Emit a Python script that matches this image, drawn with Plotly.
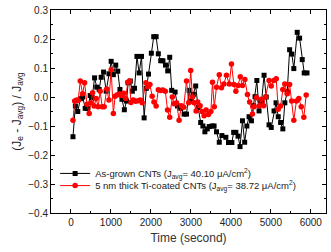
import plotly.graph_objects as go

black_t = [50, 110, 170, 235, 295, 355, 420, 480, 530, 590, 645, 705, 755, 815, 880, 950,
           1005, 1060, 1120, 1170, 1225, 1275, 1335, 1390, 1430, 1485, 1535, 1590, 1650, 1705,
           1765, 1830, 1885, 1940, 2010, 2070, 2130, 2185, 2245, 2300, 2365, 2420, 2470, 2520,
           2605, 2665, 2745, 2830, 2890, 2955, 3010, 3060, 3120, 3180, 3245, 3300, 3350, 3410,
           3460, 3530, 3580, 3640, 3710, 3775, 3875, 3940, 4025, 4070, 4125, 4180, 4230, 4290,
           4345, 4400, 4455, 4515, 4570, 4605, 4650, 4705, 4770, 4830, 4885, 4955, 5010, 5080,
           5130, 5185, 5245, 5300, 5350, 5410, 5470, 5525, 5575, 5660, 5720, 5785, 5835, 5905]
black_v = [-0.137, -0.031, -0.050, -0.006, 0.000, -0.039, -0.040, 0.005, -0.002, 0.066, 0.034,
           0.026, 0.068, 0.086, 0.020, 0.080, 0.123, 0.077, 0.110, 0.089, 0.026, -0.008, -0.044,
           -0.014, 0.049, 0.055, 0.020, 0.030, 0.140, 0.083, 0.140, -0.072, 0.030, 0.079, 0.151,
           0.208, 0.208, 0.149, 0.125, 0.125, 0.110, 0.090, 0.137, 0.023, 0.017, -0.031, -0.039,
           -0.059, -0.059, 0.023, -0.014, 0.009, 0.038, -0.036, -0.088, -0.100, -0.120, -0.110,
           -0.102, -0.100, -0.100, -0.120, -0.156, -0.133, -0.139, -0.157, -0.157, -0.122, -0.122,
           -0.135, -0.171, -0.082, -0.156, -0.100, -0.068, -0.082, -0.030, 0.001, 0.057, -0.048,
           -0.014, 0.075, 0.000, -0.096, -0.105, -0.048, -0.020, -0.068, -0.088, -0.110, -0.020,
           0.018, 0.163, 0.148, 0.098, 0.223, 0.203, 0.129, 0.083, 0.083]

red_t = [50, 92, 140, 180, 232, 290, 340, 400, 455, 500, 540, 580, 630, 680, 730, 780, 830,
         895, 950, 1005, 1060, 1105, 1160, 1215, 1270, 1320, 1370, 1420, 1465, 1500, 1560,
         1620, 1680, 1730, 1780, 1875, 1920, 1975, 2030, 2075, 2130, 2185, 2245, 2300, 2360,
         2415, 2470, 2535, 2580, 2640, 2705, 2760, 2820, 2890, 2945, 2995, 3040, 3080, 3130,
         3170, 3230, 3280, 3330, 3380, 3440, 3500, 3540, 3585, 3640, 3710, 3765, 3825, 3890,
         3960, 4015, 4075, 4125, 4180, 4235, 4290, 4350, 4415, 4470, 4540, 4580, 4640, 4705,
         4760, 4820, 4870, 4955, 5010, 5075, 5135, 5185, 5245, 5300, 5350, 5410, 5470, 5520,
         5575, 5640, 5700, 5760, 5825, 5885]
red_v = [-0.080, -0.014, -0.010, -0.012, 0.055, 0.011, 0.049, -0.025, -0.057, -0.020, 0.015,
         -0.031, -0.005, -0.034, 0.020, -0.034, -0.034, 0.028, -0.010, 0.094, -0.057, 0.003,
         0.008, 0.010, 0.005, 0.013, -0.005, 0.051, 0.055, -0.019, -0.010, -0.015, -0.013,
         -0.010, -0.020, 0.049, 0.035, 0.043, 0.003, -0.017, -0.031, 0.025, 0.022, 0.024, 0.020,
         -0.045, -0.070, 0.000, -0.023, -0.020, -0.080, -0.030, -0.035, 0.055, -0.020, 0.091,
         0.000, -0.020, -0.048, -0.017, -0.030, -0.050, -0.065, -0.045, -0.060, -0.050, 0.051,
         -0.034, 0.034, 0.077, 0.032, 0.045, 0.075, 0.045, 0.114, 0.043, 0.020, 0.040, 0.070,
         0.040, 0.060, 0.009, -0.017, -0.059, -0.034, -0.002, -0.031, -0.008, -0.030, 0.000,
         0.057, 0.038, 0.057, 0.063, -0.042, -0.031, 0.026, 0.045, 0.011, 0.043, -0.014, -0.080,
         -0.014, -0.005, -0.034, -0.070, 0.007]

black_name = "As-grown CNTs (J<sub>avg</sub>= 40.10 \u03bcA/cm<sup>2</sup>)"
red_name = "5 nm thick Ti-coated CNTs (J<sub>avg</sub>= 38.72 \u03bcA/cm<sup>2</sup>)"

FONT = "Arial, Liberation Sans, sans-serif"

fig = go.Figure()
fig.add_trace(go.Scatter(x=black_t, y=black_v, mode="lines+markers", name=black_name,
                         line=dict(color="black", width=1), legend="legend",
                         marker=dict(symbol="square", size=5, color="black")))
fig.add_trace(go.Scatter(x=red_t, y=red_v, mode="lines+markers", name=red_name,
                         line=dict(color="red", width=1), legend="legend2",
                         marker=dict(symbol="circle", size=5.5, color="red")))

axis_common = dict(showline=True, linecolor="black", linewidth=1, mirror="allticks",
                   ticks="inside", ticklen=4, tickcolor="black", showgrid=False, zeroline=False,
                   tickfont=dict(family=FONT, size=10, color="#222"))

fig.update_xaxes(range=[-500, 6380], tickvals=[0, 1000, 2000, 3000, 4000, 5000, 6000],
                 minor=dict(ticks="inside", ticklen=2, dtick=500, tick0=0, tickcolor="black"),
                 title=dict(text="Time (second)", font=dict(family=FONT, size=12, color="#333"),
                            standoff=6),
                 **axis_common)
fig.update_yaxes(range=[-0.4, 0.3], dtick=0.1, tick0=0, tickformat=".1f",
                 minor=dict(ticks="inside", ticklen=2, dtick=0.05, tick0=0, tickcolor="black"),
                 title=dict(text="(J<sub>e</sub> - J<sub>avg</sub>) / J<sub>avg</sub>",
                            font=dict(family=FONT, size=12, color="#222"), standoff=4),
                 **axis_common)

legend_common = dict(xanchor="left", yanchor="middle", bgcolor="rgba(0,0,0,0)",
                     font=dict(family=FONT, size=9.5, color="#222"), itemwidth=30)

fig.update_layout(
    width=331, height=252,
    margin=dict(l=51, r=4, t=8, b=39),
    paper_bgcolor="white", plot_bgcolor="white",
    showlegend=True,
    legend=dict(x=0.015, y=0.195, **legend_common),
    legend2=dict(x=0.015, y=0.135, **legend_common),
)

fig.write_html("out.html")
